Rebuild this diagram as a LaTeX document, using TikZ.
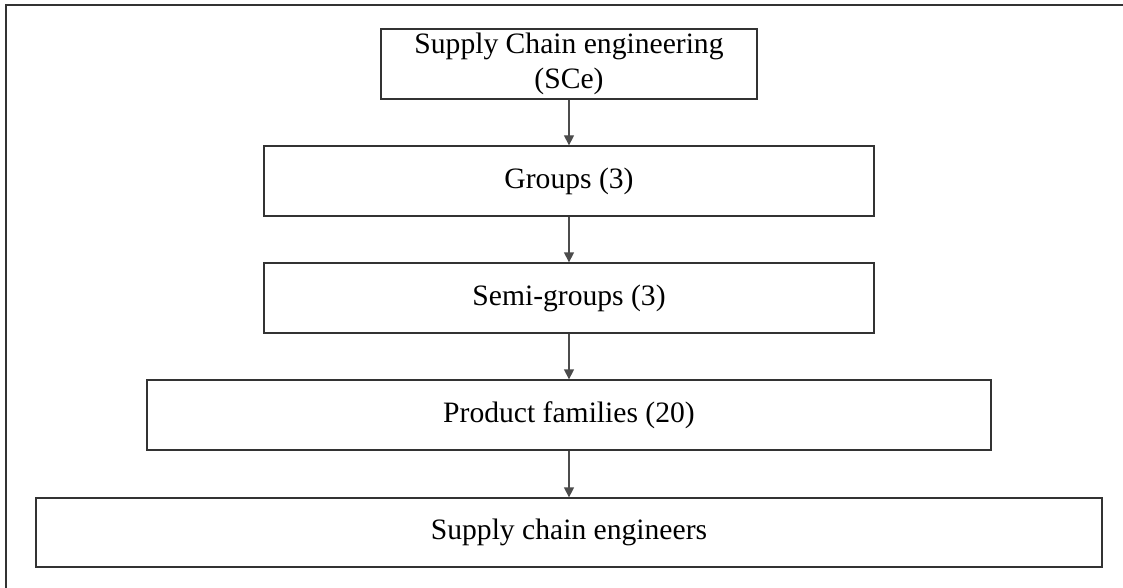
\documentclass[tikz,border=0pt]{standalone}
\usepackage{fontspec}
\setmainfont{Liberation Serif}
\usetikzlibrary{arrows.meta}
\begin{document}
\begin{tikzpicture}[x=1pt,y=-1pt,
  level/.style={draw=black!80, line width=1.3pt, rectangle, inner sep=0pt,
    align=center, minimum height=70pt,
    font=\fontsize{29.6}{35.5}\selectfont},
  link/.style={draw=black!70, line width=1.3pt,
    -{Triangle[width=10pt,length=10pt]}}]
\useasboundingbox (0,0) rectangle (1123,588);
% page frame (only its top and left sides fall inside the page)
\draw[line width=1.5pt, black!80] (6,600) -- (6,5) -- (1130,5);

\node[level, minimum width=376pt] (sce) at (569,64) {Supply Chain engineering\\(SCe)};
\node[level, minimum width=610pt] (grp) at (569,181) {Groups (3)};
\node[level, minimum width=610pt] (semi) at (569,298) {Semi-groups (3)};
\node[level, minimum width=844pt] (fam) at (569,415) {Product families (20)};
\node[level, minimum width=1066pt, minimum height=69pt] (eng) at (569,532.5) {Supply chain engineers};

\draw[link] (sce) -- (grp);
\draw[link] (grp) -- (semi);
\draw[link] (semi) -- (fam);
\draw[link] (fam) -- (eng);
\end{tikzpicture}
\end{document}
